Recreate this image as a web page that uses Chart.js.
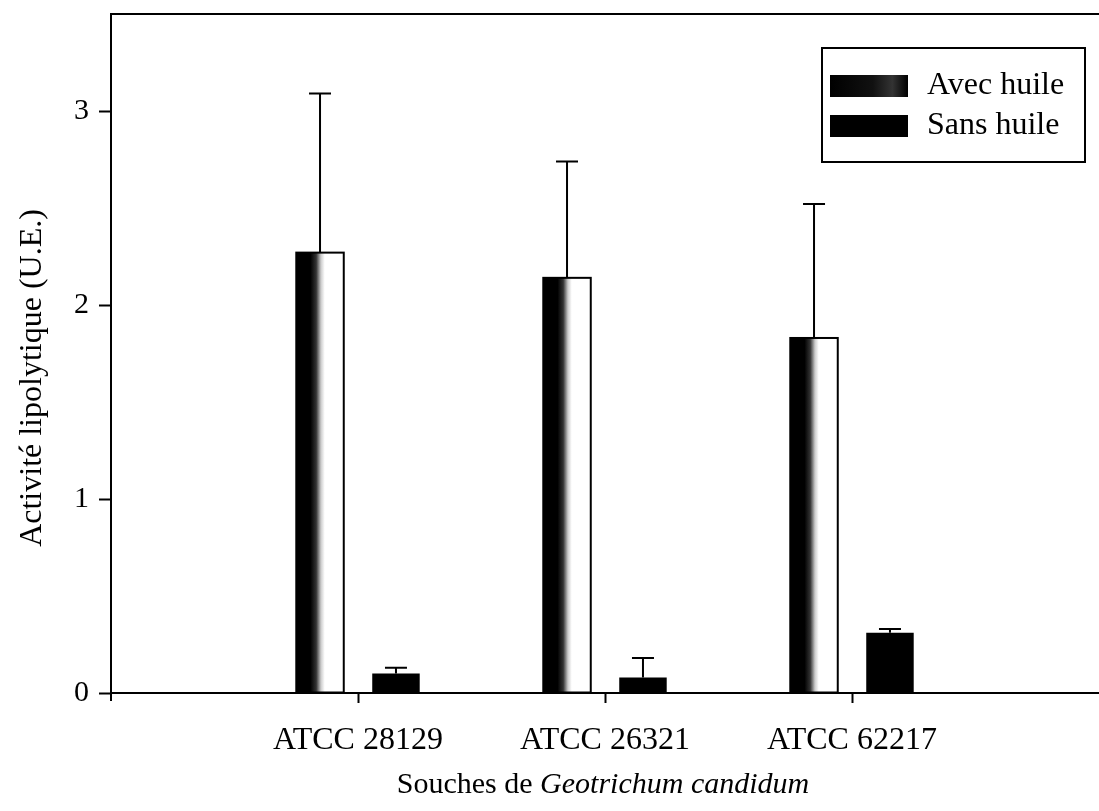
<!DOCTYPE html>
<html>
<head>
<meta charset="utf-8">
<script src="https://cdn.jsdelivr.net/npm/chart.js@4"></script>
<style>
  html, body { margin: 0; padding: 0; background: #fff; }
  #wrap { width: 1099px; height: 811px; }
</style>
</head>
<body>
<div id="wrap"><canvas id="lipase" width="1099" height="811"></canvas></div>
<script>
// Data
const strains = ["ATCC 28129", "ATCC 26321", "ATCC 62217"];
const avecHuile = [2.27, 2.14, 1.83];
const avecErr = [0.82, 0.60, 0.69];
const sansHuile = [0.10, 0.08, 0.31];
const sansErr = [0.03, 0.10, 0.02];
const yTicks = [0, 1, 2, 3];

const SERIF = "'Liberation Serif', 'DejaVu Serif', serif";
const labels = ["", ...strains, ""]; // empty slots at both ends of the axis
const points = (vals) => strains.map((s, i) => ({ x: s, y: vals[i] }));

// gradient fill for the "Avec huile" bars (dark left edge, white right)
const shadedBars = {
  id: "shadedBars",
  afterDatasetDraw(chart, args) {
    if (args.index !== 0) return;
    const ctx = chart.ctx;
    args.meta.data.forEach((el) => {
      const { x, y, base, width } = el.getProps(["x", "y", "base", "width"], true);
      const left = x - width / 2;
      const g = ctx.createLinearGradient(left, 0, left + width, 0);
      g.addColorStop(0, "#000");
      g.addColorStop(0.3, "#000");
      g.addColorStop(0.42, "#333");
      g.addColorStop(0.52, "#ccc");
      g.addColorStop(0.6, "#fff");
      g.addColorStop(1, "#fff");
      ctx.save();
      ctx.fillStyle = g;
      ctx.fillRect(left, y, width, base - y);
      ctx.strokeStyle = "#000";
      ctx.lineWidth = 2;
      ctx.strokeRect(left, y, width, base - y);
      ctx.restore();
    });
  },
};

// upper error bars only
const errorBars = {
  id: "errorBars",
  afterDatasetsDraw(chart) {
    const ctx = chart.ctx;
    const yScale = chart.scales.y;
    const vals = [avecHuile, sansHuile];
    const errs = [avecErr, sansErr];
    ctx.save();
    ctx.strokeStyle = "#000";
    ctx.lineWidth = 2;
    chart.data.datasets.forEach((ds, di) => {
      chart.getDatasetMeta(di).data.forEach((el, i) => {
        const top = yScale.getPixelForValue(vals[di][i] + errs[di][i]);
        ctx.beginPath();
        ctx.moveTo(el.x, el.y);
        ctx.lineTo(el.x, top);
        ctx.moveTo(el.x - 11, top);
        ctx.lineTo(el.x + 11, top);
        ctx.stroke();
      });
    });
    ctx.restore();
  },
};

// frame lines, axis titles and boxed legend
const decorations = {
  id: "decorations",
  afterDraw(chart) {
    const ctx = chart.ctx;
    const a = chart.chartArea;
    ctx.save();
    ctx.strokeStyle = "#000";
    ctx.lineWidth = 2;
    ctx.beginPath();
    ctx.moveTo(a.left, a.top);
    ctx.lineTo(chart.width, a.top);
    ctx.moveTo(a.left, a.bottom);
    ctx.lineTo(chart.width, a.bottom);
    ctx.moveTo(a.left, a.bottom);
    ctx.lineTo(a.left, a.bottom + 8); // y axis pokes just below the x axis
    ctx.stroke();

    // y title
    ctx.fillStyle = "#000";
    ctx.font = `32px ${SERIF}`;
    ctx.textAlign = "center";
    ctx.textBaseline = "middle";
    ctx.save();
    ctx.translate(33, 378);
    ctx.rotate(-Math.PI / 2);
    ctx.fillText("Activité lipolytique (U.E.)", 0, 0);
    ctx.restore();

    // x title, mixed roman / italic
    const p1 = "Souches de ", p2 = "Geotrichum candidum";
    ctx.textAlign = "left";
    ctx.font = `30px ${SERIF}`;
    const w1 = ctx.measureText(p1).width;
    ctx.font = `italic 30px ${SERIF}`;
    const w2 = ctx.measureText(p2).width;
    const x0 = 603 - (w1 + w2) / 2;
    ctx.font = `30px ${SERIF}`;
    ctx.fillText(p1, x0, 785);
    ctx.font = `italic 30px ${SERIF}`;
    ctx.fillText(p2, x0 + w1, 785);

    // legend
    const lx = a.right - 277, ly = a.top + 34;
    ctx.lineWidth = 2;
    ctx.strokeRect(lx, ly, 263, 114);
    chart.data.datasets.forEach((ds, i) => {
      const sy = ly + 27 + i * 40;
      if (i === 0) {
        const g = ctx.createLinearGradient(lx + 8, 0, lx + 86, 0);
        g.addColorStop(0, "#000");
        g.addColorStop(0.55, "#111");
        g.addColorStop(0.8, "#333");
        g.addColorStop(1, "#000");
        ctx.fillStyle = g;
      } else {
        ctx.fillStyle = "#000";
      }
      ctx.fillRect(lx + 8, sy, 78, 22);
      ctx.fillStyle = "#000";
      ctx.font = `32px ${SERIF}`;
      ctx.textBaseline = "middle";
      ctx.fillText(ds.label, lx + 105, sy + 11);
    });
    ctx.restore();
  },
};

new Chart(document.getElementById("lipase"), {
  type: "bar",
  data: {
    labels: labels,
    datasets: [
      {
        label: "Avec huile",
        data: points(avecHuile),
        backgroundColor: "#fff",
        borderColor: "#000",
        borderWidth: 2,
        borderSkipped: false,
      },
      {
        label: "Sans huile",
        data: points(sansHuile),
        backgroundColor: "#000",
        borderColor: "#000",
        borderWidth: 0,
      },
    ],
  },
  options: {
    responsive: false,
    animation: false,
    devicePixelRatio: 1,
    categoryPercentage: 0.615,
    barPercentage: 0.625,
    layout: { padding: { top: 14, right: 0, left: 0, bottom: 0 } },
    scales: {
      x: {
        type: "category",
        offset: false,
        grid: {
          offset: false,
          drawOnChartArea: false,
          tickLength: 10,
          tickWidth: 2,
          tickColor: (c) => (labels[c.index] ? "#000" : "rgba(0,0,0,0)"),
        },
        border: { display: false },
        ticks: { color: "#000", font: { family: SERIF, size: 32 }, padding: 18, maxRotation: 0, autoSkip: false },
        afterFit: (s) => { s.height = 118; s.paddingLeft = 0; s.paddingRight = 0; },
      },
      y: {
        min: 0,
        max: 3.5,
        afterBuildTicks: (s) => { s.ticks = yTicks.map((v) => ({ value: v })); },
        grid: { drawOnChartArea: false, tickLength: 12, tickWidth: 2, tickColor: "#000" },
        border: { color: "#000", width: 2 },
        ticks: { color: "#000", font: { family: SERIF, size: 30 }, padding: 10 },
        afterFit: (s) => { s.width = 111; s.paddingTop = 0; s.paddingBottom = 0; },
      },
    },
    plugins: {
      legend: { display: false },
      tooltip: { enabled: false },
    },
  },
  plugins: [shadedBars, errorBars, decorations],
});
</script>
</body>
</html>
